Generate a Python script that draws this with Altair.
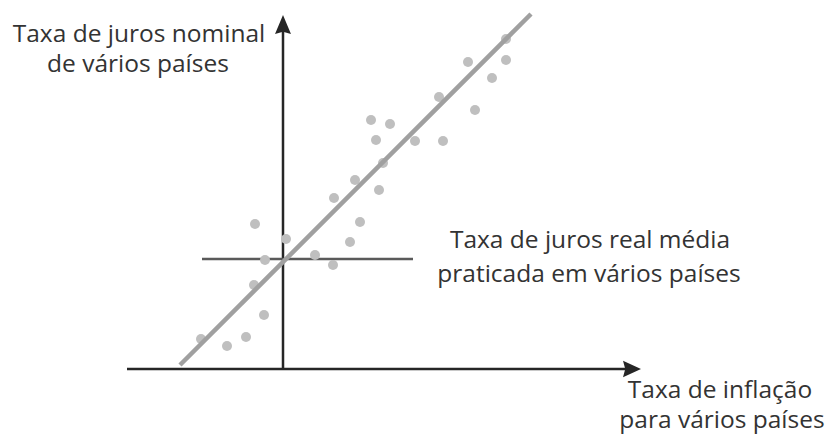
import altair as alt
import pandas as pd

# Scatter of countries (inflation x, nominal interest y), origin at axes crossing
pts_x = [223, 185, 223, 209, 156, 192, 88, 107, 93, 132, 160, 100, 72, 96, 51,
         -28, 77, 3, 67, 32, -18, 50, -29, -19, -82, -37, -56]
pts_y = [330, 307, 309, 291, 272, 259, 249, 245, 229, 228, 228, 206, 189, 179, 171,
         145, 147, 130, 127, 114, 109, 104, 84, 54, 30, 32, 23]

# Fitted line endpoints
fit_x = [-103, 248]
fit_y = [4, 355]

# Average real interest rate line
real_x = [-81, 130]
real_y = [110, 110]

# Axes
vaxis_x = [0, 0]
vaxis_y = [0, 340]
haxis_x = [-156, 345]
haxis_y = [0, 0]

# Text labels (centre x, baseline y)
lab_text = ["Taxa de juros nominal", "de vários países",
            "Taxa de juros real média", "praticada em vários países",
            "Taxa de inflação", "para vários países"]
lab_x = [-144, -145, 307, 306, 437, 439]
lab_y = [327.5, 297.5, 121, 87, -29, -59]

X_DOM = [-275, 545]
Y_DOM = [-67, 361]
xs = alt.Scale(domain=X_DOM, nice=False, zero=False)
ys = alt.Scale(domain=Y_DOM, nice=False, zero=False)

pts = pd.DataFrame({"x": pts_x, "y": pts_y})
fit = pd.DataFrame({"x": fit_x, "y": fit_y})
real = pd.DataFrame({"x": real_x, "y": real_y})
vax = pd.DataFrame({"x": vaxis_x, "y": vaxis_y})
hax = pd.DataFrame({"x": haxis_x, "y": haxis_y})
labs = pd.DataFrame({"t": lab_text, "x": lab_x, "y": lab_y})
arr_up = pd.DataFrame({"x": [0], "y": [344.5]})
arr_rt = pd.DataFrame({"x": [349], "y": [0]})

def enc(ch):
    return ch.encode(
        x=alt.X("x:Q", scale=xs, axis=None),
        y=alt.Y("y:Q", scale=ys, axis=None),
    )

axis_color = "#262626"

l_v = enc(alt.Chart(vax).mark_line(color=axis_color, strokeWidth=2.5))
l_h = enc(alt.Chart(hax).mark_line(color=axis_color, strokeWidth=2.5))
l_real = enc(alt.Chart(real).mark_line(color="#5a5a5a", strokeWidth=2.5))
dots = enc(alt.Chart(pts).mark_point(filled=True, color="#bfbfbf", opacity=1, size=100, shape="circle"))
l_fit = enc(alt.Chart(fit).mark_line(color="#a0a0a0", strokeWidth=4.5))
up = enc(alt.Chart(arr_up).mark_point(
    filled=True, color=axis_color, opacity=1, size=361,
    shape="M0,-1L0.84,1L0,0.75L-0.84,1Z"))
rt = enc(alt.Chart(arr_rt).mark_point(
    filled=True, color=axis_color, opacity=1, size=324,
    shape="M1,0L-1,-0.92L-0.75,0L-1,0.92Z"))
txt = enc(alt.Chart(labs).mark_text(
    font="Open Sans", fontSize=24.5, color="#333333", align="center", baseline="alphabetic"
)).encode(text="t:N")

chart = alt.layer(l_h, l_v, l_real, dots, l_fit, up, rt, txt).properties(
    width=820, height=428, autosize=alt.AutoSizeParams(type="none"), padding=0
).configure_view(stroke=None)

chart.save("out.html", embed_options={"renderer": "svg", "actions": False})
